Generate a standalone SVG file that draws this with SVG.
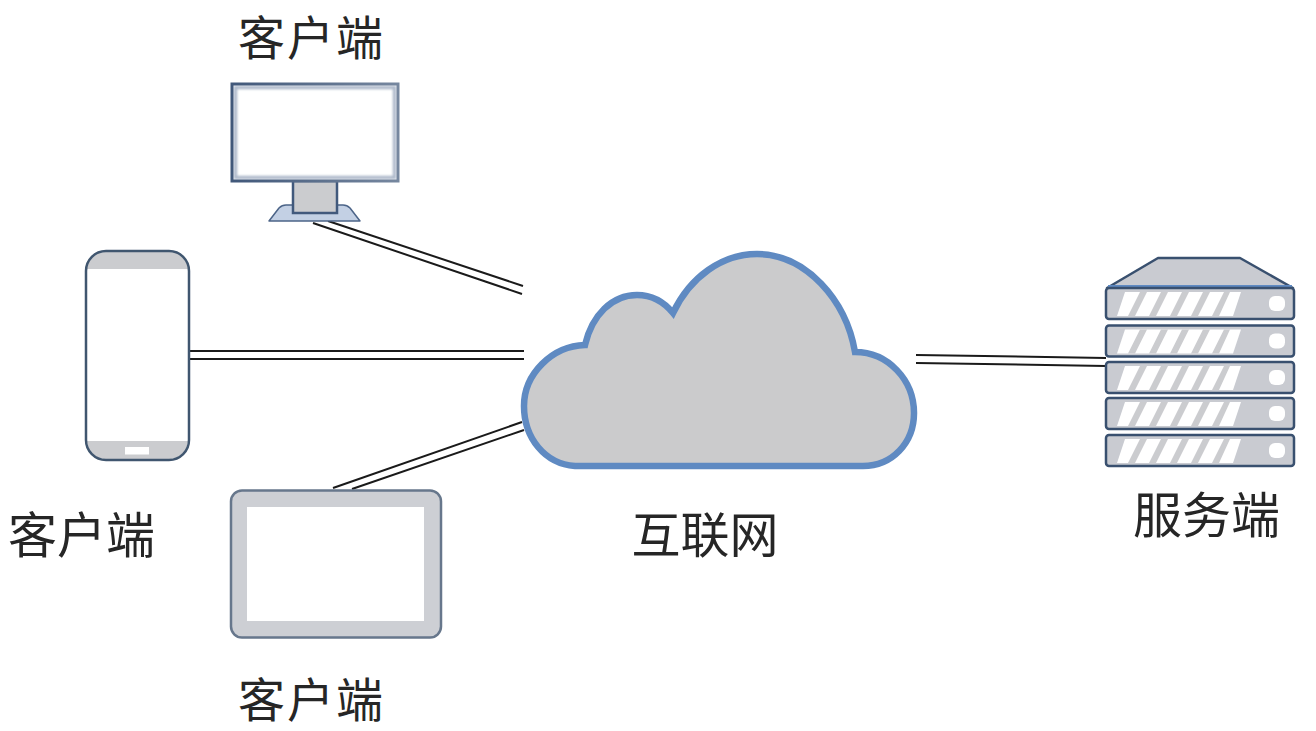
<svg xmlns="http://www.w3.org/2000/svg" width="1316" height="731" viewBox="0 0 1316 731">
<style>
.lbl{font-family:"Noto Sans CJK SC","Liberation Sans",sans-serif;font-size:49px;fill:#262626;text-anchor:middle}
.edge{font-size:47px;letter-spacing:2px}
.wire{stroke:#1a1a1a;stroke-width:2;fill:none}
.bar{fill:#c9cbd1;stroke:#39506f;stroke-width:2.5}
.gray{fill:#cbcccf}
.led{fill:#fff}
</style>
<defs>
<linearGradient id="mon" x1="0" y1="0" x2="1" y2="0"><stop offset="0" stop-color="#41587a"/><stop offset="1" stop-color="#76879f"/></linearGradient>
<filter id="soft" x="-5%" y="-5%" width="110%" height="110%"><feGaussianBlur stdDeviation="1.200"/></filter>
<g id="unit">
<rect class="bar" x="1106" y="0" width="188" height="31" rx="3"/>
<path d="M1125 4H1241L1233 28H1117Z" fill="#fff"/>
<path class="gray" d="M1140 4H1147L1135 28H1128ZM1161 4H1168L1156 28H1149ZM1182 4H1189L1177 28H1170ZM1203 4H1210L1198 28H1191ZM1224 4H1230L1219 28H1212Z"/>
<rect class="led" x="1269" y="8" width="16" height="15" rx="6"/>
</g>
</defs>
<g id="connectors">
<path class="wire" d="M328 221L523 286M313 223L522 294"/>
<path class="wire" d="M190 351H524M190 359H524"/>
<path class="wire" d="M333 488L522 422M352 489L524 430"/>
<path class="wire" d="M916 355L1106 358M916 363L1106 366"/>
</g>
<g id="client-desktop">
<path d="M269 221L279 208Q282 205 286 205H343Q347 205 350 208L360 221Z" fill="#c3d0e4" stroke="#4c6488" stroke-width="1.500" stroke-linejoin="round"/>
<rect x="293" y="181" width="44" height="32" fill="#cbcccf" stroke="#41597c" stroke-width="2.500"/>
<rect x="232" y="84" width="166" height="97" fill="#fff"/>
<rect x="235.500" y="87.500" width="159" height="90" fill="none" stroke="#aebacb" stroke-width="3.500" filter="url(#soft)"/>
<rect x="232" y="84" width="166" height="97" fill="none" stroke="url(#mon)" stroke-width="3"/>
<text class="lbl edge" x="311.500" y="55">客户端</text>
</g>
<g id="client-phone">
<rect x="86" y="251" width="103" height="209" rx="20" fill="#fff"/>
<path class="gray" d="M87 269V270C87 260 95 252 106 252H169C180 252 188 260 188 270V269Z"/>
<path class="gray" d="M87 441H188V440C188 450 180 459 169 459H106C95 459 87 450 87 440Z"/>
<rect x="125" y="447" width="24" height="7.500" fill="#fff"/>
<rect x="86" y="251" width="103" height="209" rx="20" fill="none" stroke="#40566f" stroke-width="2.500"/>
<text class="lbl" x="81.500" y="553">客户端</text>
</g>
<g id="client-tablet">
<rect x="231" y="490.500" width="210" height="147" rx="11" fill="#cdcfd4" stroke="#67778c" stroke-width="2.500"/>
<rect x="247" y="507" width="177" height="114" fill="#fff"/>
<text class="lbl edge" x="311.500" y="717">客户端</text>
</g>
<g id="internet">
<path d="M575 466C545 464 524 438 524 406C524 374 552 346 585 345C592 315 612 295 637 295C651 295 664 302 673 313C690 277 722 254 757 254C806 254 846 300 855 352C888 352 914 380 914 413C914 443 892 466 863 466Z" fill="#cbcbcc" stroke="#5f8ac2" stroke-width="6.500"/>
<text class="lbl" x="705" y="553">互联网</text>
</g>
<g id="server">
<path d="M1107 288L1158 258H1240L1293 288Z" fill="#c9cbd1" stroke="#39506f" stroke-width="2.500" stroke-linejoin="round"/>
<path d="M1108 287H1292" stroke="#5f8ac2" stroke-width="4"/>
<use href="#unit" y="288"/>
<use href="#unit" y="325.500"/>
<use href="#unit" y="362"/>
<use href="#unit" y="398"/>
<use href="#unit" y="435"/>
<text class="lbl" x="1206.500" y="533">服务端</text>
</g>
</svg>
